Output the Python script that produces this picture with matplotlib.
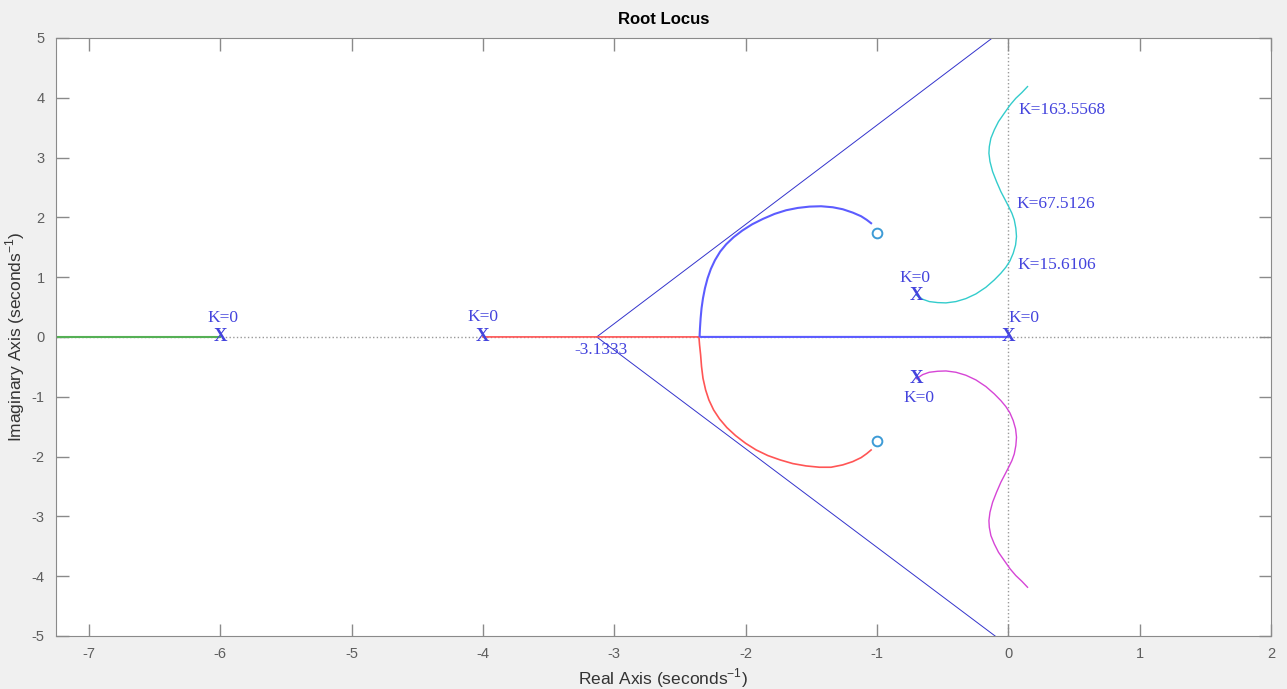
import matplotlib.pyplot as plt

plt.rcParams['axes.unicode_minus'] = False

# open-loop poles / zeros
pole_re = [-6, -4, 0, -0.7, -0.7]
pole_im = [0, 0, 0, 0.7, -0.7]
zero_re = [-1, -1]
zero_im = [1.732, -1.732]
centroid = -3.1333

# branches
green_x = [-6.0, -7.3]
green_y = [0, 0]

red_x = [-4.0, -2.36, -2.355, -2.350, -2.342, -2.335, -2.324, -2.304, -2.279, -2.243, -2.198, -2.142,
         -2.076, -2.000, -1.919, -1.830, -1.736, -1.640, -1.539, -1.437, -1.349, -1.260, -1.184,
         -1.120, -1.077, -1.044]
red_y = [0, 0, 0, -0.134, -0.301, -0.496, -0.691, -0.886, -1.054, -1.221, -1.371, -1.516,
         -1.650, -1.778, -1.890, -1.984, -2.057, -2.118, -2.157, -2.179, -2.179, -2.140, -2.085,
         -2.018, -1.951, -1.890]

blue_x = [0.0, -2.34, -2.350, -2.347, -2.342, -2.335, -2.324, -2.309, -2.289, -2.264, -2.233, -2.193,
          -2.147, -2.091, -2.025, -1.949, -1.868, -1.779, -1.691, -1.602, -1.513, -1.425, -1.336,
          -1.260, -1.184, -1.120, -1.077, -1.044]
blue_y = [0, 0, 0.01, 0.145, 0.312, 0.479, 0.647, 0.814, 0.981, 1.137, 1.282, 1.427,
          1.550, 1.667, 1.778, 1.884, 1.973, 2.057, 2.118, 2.157, 2.179, 2.185, 2.168,
          2.135, 2.079, 2.018, 1.957, 1.901]

cyan_x = [-0.700, -0.651, -0.601, -0.537, -0.474, -0.398, -0.322, -0.246, -0.170, -0.106, -0.056,
          -0.018, 0.013, 0.038, 0.056, 0.063, 0.058, 0.046, 0.028, 0.003, -0.023, -0.056, -0.089,
          -0.119, -0.139, -0.147, -0.144, -0.132, -0.106, -0.074, -0.030, 0.015, 0.058, 0.104, 0.147]
cyan_y = [0.700, 0.630, 0.591, 0.574, 0.569, 0.591, 0.641, 0.719, 0.830, 0.953, 1.065,
          1.165, 1.271, 1.399, 1.538, 1.678, 1.817, 1.957, 2.068, 2.180, 2.291, 2.430, 2.597,
          2.765, 2.932, 3.071, 3.183, 3.322, 3.462, 3.601, 3.740, 3.880, 3.991, 4.086, 4.186]

mag_x = [-0.700, -0.651, -0.601, -0.537, -0.474, -0.398, -0.322, -0.246, -0.170, -0.106, -0.056,
         -0.018, 0.013, 0.038, 0.056, 0.063, 0.058, 0.046, 0.028, 0.003, -0.023, -0.056, -0.089,
         -0.119, -0.139, -0.147, -0.144, -0.132, -0.106, -0.074, -0.030, 0.015, 0.058, 0.104, 0.147]
mag_y = [-0.700, -0.630, -0.591, -0.574, -0.569, -0.591, -0.641, -0.719, -0.830, -0.953, -1.065,
         -1.165, -1.271, -1.399, -1.538, -1.678, -1.817, -1.957, -2.068, -2.180, -2.291, -2.430, -2.597,
         -2.765, -2.932, -3.071, -3.183, -3.322, -3.462, -3.601, -3.740, -3.880, -3.991, -4.086, -4.186]

# asymptote end points
asym_x = [-0.09, -0.07]
asym_y = [5.05, -5.05]

# gain labels
k_text = ['K=163.5568', 'K=67.5126', 'K=15.6106']
k_x = [0.08, 0.06, 0.07]
k_y = [3.80, 2.22, 1.20]

fig = plt.figure(figsize=(12.87, 6.89), dpi=100, facecolor='#f0f0f0')
ax = fig.add_axes([0.0435, 0.077, 0.944, 0.868])

# dotted axes lines
ax.axhline(0, color='#999999', ls=':', lw=1, zorder=1)
ax.axvline(0, color='#999999', ls=':', lw=1, zorder=1)

for ex, ey in zip(asym_x, asym_y):
    ax.plot([centroid, ex], [0, ey], color='#3333cc', lw=0.7)

ax.plot(green_x, green_y, color='#55b055', lw=1.5)
ax.plot(red_x, red_y, color='#ff5555', lw=1.2)
ax.plot(blue_x, blue_y, color='#5c5cff', lw=1.5)
ax.plot(cyan_x, cyan_y, color='#33cccc', lw=1.0)
ax.plot(mag_x, mag_y, color='#d645d6', lw=1.0)

ax.plot(zero_re, zero_im, 'o', ms=7, mfc='none', mec='#3d9bd6', mew=1.4)

tfont = dict(family='Liberation Serif', color='#4444dd')
for px, py in zip(pole_re, pole_im):
    ax.text(px, py, 'X', ha='center', va='center', fontsize=13.5, fontweight='bold', **tfont)

ax.text(-5.98, 0.32, 'K=0', ha='center', va='center', fontsize=12.5, **tfont)
ax.text(-4.0, 0.33, 'K=0', ha='center', va='center', fontsize=12.5, **tfont)
ax.text(0.0, 0.32, 'K=0', ha='left', va='center', fontsize=12.5, **tfont)
ax.text(-0.71, 0.99, 'K=0', ha='center', va='center', fontsize=12.5, **tfont)
ax.text(-0.68, -1.02, 'K=0', ha='center', va='center', fontsize=12.5, **tfont)
ax.text(-3.1, -0.22, '-3.1333', ha='center', va='center', fontsize=12.5, **tfont)
for t, tx, ty in zip(k_text, k_x, k_y):
    ax.text(tx, ty, t, ha='left', va='center', fontsize=12.5, **tfont)

ax.set_xlim(-7.25, 2)
ax.set_ylim(-5, 5)
ax.set_xticks(range(-7, 3))
ax.set_yticks(range(-5, 6))

for s in ax.spines.values():
    s.set_color('#8a8a8a')
ax.tick_params(direction='in', length=9, width=1, color='#8a8a8a', labelcolor='#5e5e5e',
               labelsize=10.5, top=True, right=True, pad=8)
for lab in ax.get_xticklabels() + ax.get_yticklabels():
    lab.set_family('Liberation Sans')

ax.set_xlabel('Real Axis (seconds$^{\\mathregular{-1}}$)', fontsize=12.5, family='Liberation Sans', color='#333333')
ax.set_ylabel('Imaginary Axis (seconds$^{\\mathregular{-1}}$)', fontsize=12.5, family='Liberation Sans', color='#333333')
ax.yaxis.set_label_coords(-0.024, 0.5)
ax.set_title('Root Locus', fontsize=12, fontweight='bold', family='Liberation Sans', pad=10)

fig.savefig('out.png', dpi=100, facecolor=fig.get_facecolor())
